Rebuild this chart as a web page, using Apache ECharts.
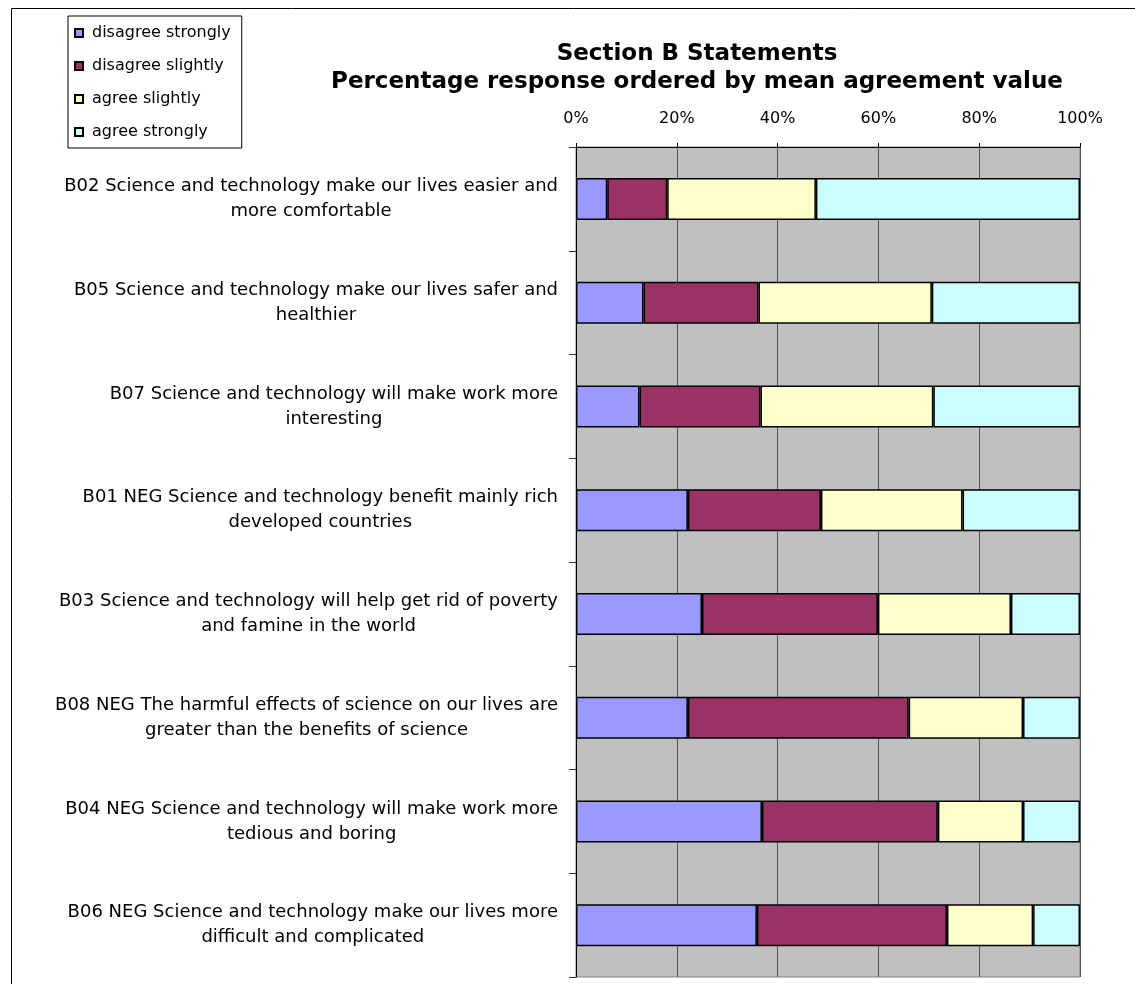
<!DOCTYPE html>
<html>
<head>
<meta charset="utf-8">
<script src="https://cdn.jsdelivr.net/npm/echarts@6/dist/echarts.min.js"></script>
<style>
  html, body { margin: 0; padding: 0; background: #fff; }
  #chart { width: 1135px; height: 984px; }
</style>
</head>
<body>
<div id="chart"></div>
<script>
// Statements, ordered by mean agreement value (top to bottom)
const statements = [
  'B02 Science and technology make our lives easier and\nmore comfortable',
  'B05 Science and technology make our lives safer and\nhealthier',
  'B07 Science and technology will make work more\ninteresting',
  'B01 NEG Science and technology benefit mainly rich\ndeveloped countries',
  'B03 Science and technology will help get rid of poverty\nand famine in the world',
  'B08 NEG The harmful effects of science on our lives are\ngreater than the benefits of science',
  'B04 NEG Science and technology will make work more\ntedious and boring',
  'B06 NEG Science and technology make our lives more\ndifficult and complicated'
];

const responseNames = ['disagree strongly', 'disagree slightly', 'agree slightly', 'agree strongly'];

// Percentage of responses per statement
const disagreeStrongly = [6.2, 13.4, 12.6, 22.2, 25.0, 22.2, 36.9, 35.9];
const disagreeSlightly = [11.9, 22.8, 24.0, 26.4, 34.9, 43.8, 34.9, 37.7];
const agreeSlightly    = [29.5, 34.4, 34.3, 28.1, 26.4, 22.7, 16.9, 17.1];
const agreeStrongly    = [52.4, 29.4, 29.1, 23.3, 13.7, 11.3, 11.3, 9.3];

const percentTicks = [0, 20, 40, 60, 80, 100];

const seriesValues = [disagreeStrongly, disagreeSlightly, agreeSlightly, agreeStrongly];
const seriesColors = ['#9999FF', '#993366', '#FFFFCC', '#CCFFFF'];

const FONT = '"DejaVu Sans", Verdana, sans-serif';

const chart = echarts.init(document.getElementById('chart'));

chart.setOption({
  backgroundColor: '#ffffff',
  animation: false,
  textStyle: { fontFamily: FONT, color: '#000' },
  title: {
    text: 'Section B Statements\nPercentage response ordered by mean agreement value',
    left: 692,
    top: 35,
    textAlign: 'center',
    textStyle: {
      fontFamily: FONT,
      fontSize: 23,
      fontWeight: 'bold',
      lineHeight: 28,
      color: '#000'
    }
  },
  legend: {
    orient: 'vertical',
    left: 68,
    top: 16,
    padding: [9, 11, 8, 6],
    itemGap: 17,
    itemWidth: 8,
    itemHeight: 8,
    icon: 'rect',
    backgroundColor: '#fff',
    borderColor: '#000',
    borderWidth: 1,
    borderRadius: 0,
    textStyle: { fontFamily: FONT, fontSize: 16, color: '#000', padding: [0, 0, 0, 4] },
    data: responseNames
  },
  graphic: [{
    type: 'rect',
    z: -10,
    silent: true,
    shape: { x: 11.5, y: 8.5, width: 1300, height: 1300 },
    style: { fill: 'none', stroke: '#000', lineWidth: 1 }
  }],
  grid: {
    left: 576,
    top: 147,
    right: 55,
    bottom: 7,
    show: true,
    backgroundColor: '#C0C0C0',
    borderColor: '#808080',
    borderWidth: 1
  },
  xAxis: {
    type: 'value',
    position: 'top',
    min: percentTicks[0],
    max: percentTicks[percentTicks.length - 1],
    interval: 20,
    axisLine: { show: true, lineStyle: { color: '#000', width: 1 } },
    axisTick: { show: true, length: 4, lineStyle: { color: '#000' } },
    axisLabel: {
      margin: 20,
      fontFamily: FONT,
      fontSize: 16,
      color: '#000',
      formatter: v => v + '%'
    },
    splitLine: { show: true, lineStyle: { color: '#555555', width: 1 } }
  },
  yAxis: {
    type: 'category',
    inverse: true,
    data: statements,
    axisLine: { show: true, lineStyle: { color: '#000', width: 1 } },
    axisTick: { show: true, length: 7, lineStyle: { color: '#333' } },
    axisLabel: {
      margin: 18,
      align: 'right',
      formatter: s => s.split('\n').map(line => '{c|' + line + '}').join('\n'),
      rich: {
        c: { align: 'center', fontFamily: FONT, fontSize: 18, lineHeight: 25, color: '#000' }
      }
    },
    splitLine: { show: false }
  },
  series: responseNames.map((name, i) => ({
    name: name,
    type: 'bar',
    stack: 'response',
    barWidth: 42,
    data: seriesValues[i],
    itemStyle: { color: seriesColors[i], borderColor: '#000', borderWidth: 1.5 },
    emphasis: { disabled: true }
  }))
});
</script>
</body>
</html>
